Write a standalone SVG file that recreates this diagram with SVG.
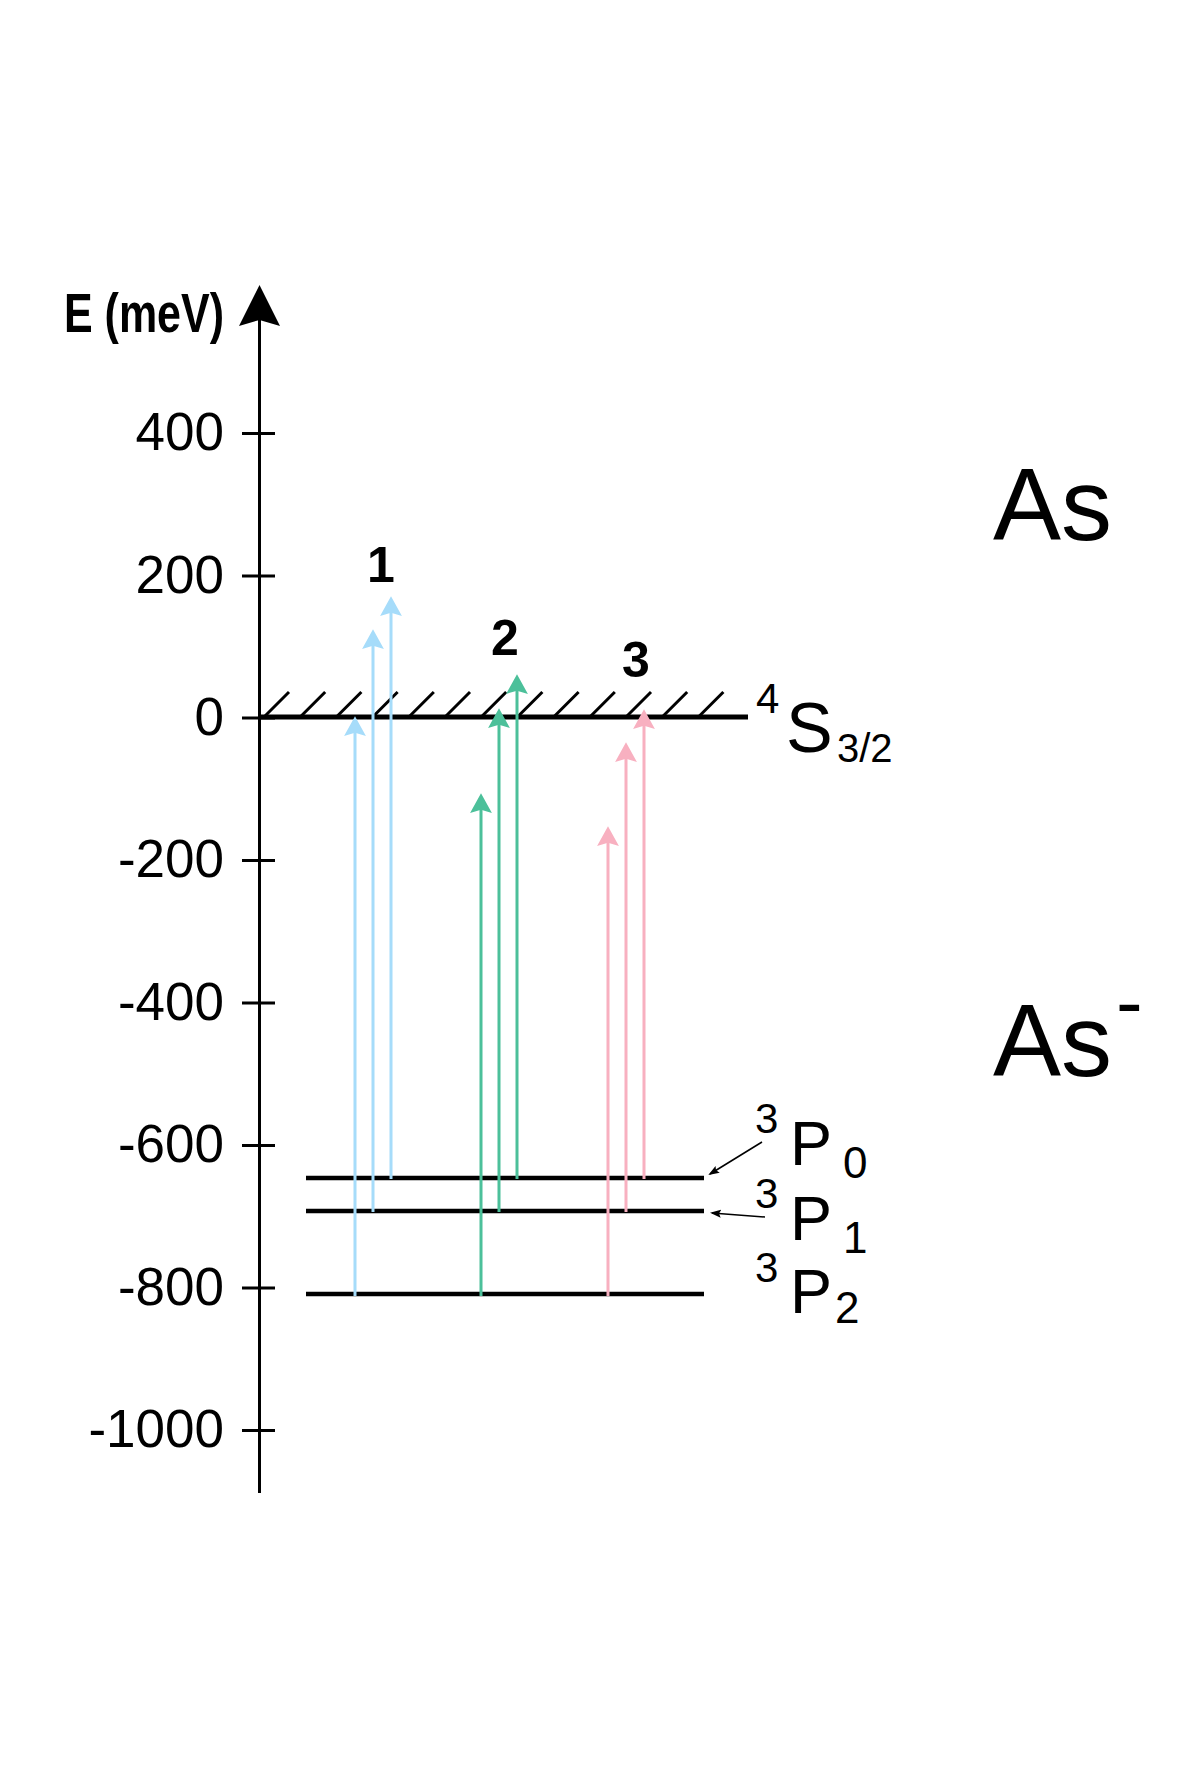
<svg xmlns="http://www.w3.org/2000/svg" width="1196" height="1788" viewBox="0 0 1196 1788">
<style>
text{font-family:"Liberation Sans",Arial,sans-serif;fill:#000}
.tick{font-size:53px;text-anchor:end}
.num{font-size:50px;font-weight:bold;text-anchor:middle}
.ax{stroke:#000;stroke-width:3;fill:none}
.lvl{stroke:#000;stroke-width:4.5}
.hatch{stroke:#000;stroke-width:3}
.blue{stroke:#a6dcfa;stroke-width:3}
.green{stroke:#4cc09a;stroke-width:3}
.pink{stroke:#f8b0c0;stroke-width:3}
.ptr{stroke:#000;stroke-width:1.5}
</style>
<defs>
<marker id="hb" markerUnits="userSpaceOnUse" markerWidth="22" markerHeight="24" viewBox="0 -11 20 22" refX="10" refY="0" orient="auto"><path d="M18,0 L0,-10 L3,0 L0,10 Z" fill="#a6dcfa"/></marker>
<marker id="hg" markerUnits="userSpaceOnUse" markerWidth="22" markerHeight="24" viewBox="0 -11 20 22" refX="10" refY="0" orient="auto"><path d="M18,0 L0,-10 L3,0 L0,10 Z" fill="#4cc09a"/></marker>
<marker id="hp" markerUnits="userSpaceOnUse" markerWidth="22" markerHeight="24" viewBox="0 -11 20 22" refX="10" refY="0" orient="auto"><path d="M18,0 L0,-10 L3,0 L0,10 Z" fill="#f8b0c0"/></marker>
<marker id="hk" markerUnits="userSpaceOnUse" markerWidth="12" markerHeight="10" viewBox="0 -5 12 10" refX="9" refY="0" orient="auto"><path d="M11,0 L0,-4 L2,0 L0,4 Z" fill="#000"/></marker>
</defs>
<rect width="1196" height="1788" fill="#fff"/>

<g id="axis">
<line class="ax" x1="259.5" y1="1493" x2="259.5" y2="310"/>
<path d="M259.5,285 L280,326 L259.5,320 L239,326 Z" fill="#000"/>
<text x="64" y="332" font-size="56" font-weight="bold" textLength="160" lengthAdjust="spacingAndGlyphs">E (meV)</text>
<line class="ax" x1="242" y1="433.5" x2="275" y2="433.5"/>
<line class="ax" x1="242" y1="576" x2="275" y2="576"/>
<line class="ax" x1="242" y1="718" x2="275" y2="718"/>
<line class="ax" x1="242" y1="860.5" x2="275" y2="860.5"/>
<line class="ax" x1="242" y1="1003" x2="275" y2="1003"/>
<line class="ax" x1="242" y1="1145.5" x2="275" y2="1145.5"/>
<line class="ax" x1="242" y1="1288" x2="275" y2="1288"/>
<line class="ax" x1="242" y1="1430.5" x2="275" y2="1430.5"/>
<text class="tick" x="224" y="450">400</text>
<text class="tick" x="224" y="592.5">200</text>
<text class="tick" x="224" y="734.5">0</text>
<text class="tick" x="224" y="877">-200</text>
<text class="tick" x="224" y="1019.5">-400</text>
<text class="tick" x="224" y="1162">-600</text>
<text class="tick" x="224" y="1304.5">-800</text>
<text class="tick" x="224" y="1447">-1000</text>
</g>

<g id="level-S32">
<line x1="259" y1="717" x2="748" y2="717" stroke="#000" stroke-width="5"/>
<line class="hatch" x1="265" y1="716" x2="289" y2="692"/>
<line class="hatch" x1="301.2" y1="716" x2="325.2" y2="692"/>
<line class="hatch" x1="337.4" y1="716" x2="361.4" y2="692"/>
<line class="hatch" x1="373.6" y1="716" x2="397.6" y2="692"/>
<line class="hatch" x1="409.8" y1="716" x2="433.8" y2="692"/>
<line class="hatch" x1="446" y1="716" x2="470" y2="692"/>
<line class="hatch" x1="482.2" y1="716" x2="506.2" y2="692"/>
<line class="hatch" x1="518.4" y1="716" x2="542.4" y2="692"/>
<line class="hatch" x1="554.6" y1="716" x2="578.6" y2="692"/>
<line class="hatch" x1="590.8" y1="716" x2="614.8" y2="692"/>
<line class="hatch" x1="627" y1="716" x2="651" y2="692"/>
<line class="hatch" x1="663.2" y1="716" x2="687.2" y2="692"/>
<line class="hatch" x1="699.4" y1="716" x2="723.4" y2="692"/>
<text x="756" y="713" font-size="42">4</text>
<text x="786" y="752" font-size="70">S</text>
<text x="837" y="762" font-size="40">3/2</text>
</g>

<g id="level-P0">
<line class="lvl" x1="306" y1="1178" x2="704" y2="1178"/>
<text x="755" y="1133" font-size="42">3</text>
<text x="790" y="1165" font-size="63">P</text>
<text x="843" y="1178" font-size="44">0</text>
</g>
<g id="level-P1">
<line class="lvl" x1="306" y1="1211" x2="704" y2="1211"/>
<text x="755" y="1208" font-size="42">3</text>
<text x="790" y="1240" font-size="63">P</text>
<text x="843" y="1253" font-size="44">1</text>
</g>
<g id="level-P2">
<line class="lvl" x1="306" y1="1294" x2="704" y2="1294"/>
<text x="755" y="1282" font-size="42">3</text>
<text x="790" y="1313" font-size="63">P</text>
<text x="835" y="1323" font-size="44">2</text>
</g>

<g id="label-As">
<text x="993" y="540" font-size="102">As</text>
</g>
<g id="label-As-minus">
<text x="993" y="1076" font-size="102">As</text>
<text x="1116" y="1029" font-size="80">-</text>
</g>

<g id="group-labels">
<text class="num" x="381" y="582">1</text>
<text class="num" x="505" y="655">2</text>
<text class="num" x="636" y="677">3</text>
</g>

<g id="connectors">
<line class="blue" x1="355" y1="1296" x2="355" y2="725" marker-end="url(#hb)"/>
<line class="blue" x1="373" y1="1212" x2="373" y2="638" marker-end="url(#hb)"/>
<line class="blue" x1="391" y1="1179" x2="391" y2="605" marker-end="url(#hb)"/>
<line class="green" x1="481" y1="1296" x2="481" y2="802" marker-end="url(#hg)"/>
<line class="green" x1="499" y1="1212" x2="499" y2="717" marker-end="url(#hg)"/>
<line class="green" x1="517" y1="1179" x2="517" y2="683" marker-end="url(#hg)"/>
<line class="pink" x1="608" y1="1296" x2="608" y2="835" marker-end="url(#hp)"/>
<line class="pink" x1="626" y1="1212" x2="626" y2="751" marker-end="url(#hp)"/>
<line class="pink" x1="644" y1="1179" x2="644" y2="718" marker-end="url(#hp)"/>
<line class="ptr" x1="762" y1="1142" x2="710" y2="1174" marker-end="url(#hk)"/>
<line class="ptr" x1="765" y1="1217" x2="712" y2="1213" marker-end="url(#hk)"/>
</g>
</svg>
